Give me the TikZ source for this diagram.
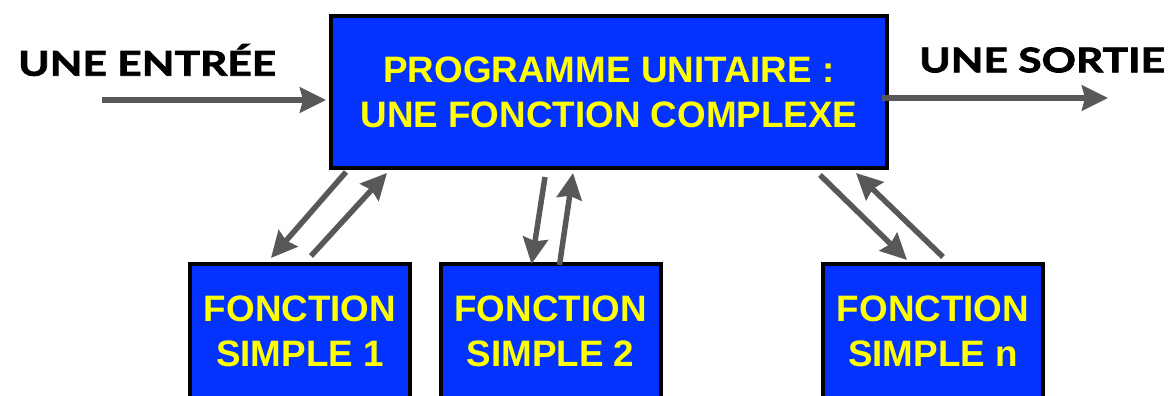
\documentclass[tikz,border=0pt]{standalone}
\usepackage{fontspec}
\setmainfont{Liberation Sans}
\newfontfamily\labelfont{Lato}[BoldFeatures={FakeBold=2.2, FakeStretch=1.25}]
\usetikzlibrary{arrows.meta,calc}
\definecolor{boxblue}{RGB}{4,51,255}
\definecolor{boxyellow}{RGB}{255,255,0}
\definecolor{arrowgray}{RGB}{88,88,88}
\tikzset{
  bigbox/.style={draw=black, line width=4pt, fill=boxblue, text=boxyellow,
    font=\bfseries\fontsize{36.8}{45}\selectfont, align=center, inner sep=0pt},
  flow/.style={draw=arrowgray, line width=5.5pt,
    -{Stealth[length=26pt, width=25pt, inset=3pt]}},
  iolabel/.style={font=\labelfont\bfseries\fontsize{34}{36}\selectfont, text=black, inner sep=0pt}
}
\begin{document}
\begin{tikzpicture}[x=1pt, y=-1pt]
  \useasboundingbox (0,0) rectangle (1171,396);
  \clip (0,0) rectangle (1171,396);

  % main program box
  \node[bigbox, minimum width=556pt, minimum height=152pt] (main) at (609,92)
    {PROGRAMME UNITAIRE :\\UNE FONCTION COMPLEXE};

  % simple function boxes
  \node[bigbox, minimum width=220pt, minimum height=134pt] (f1) at (300,331)
    {FONCTION\\SIMPLE 1};
  \node[bigbox, minimum width=220pt, minimum height=134pt] (f2) at (550.5,331)
    {FONCTION\\SIMPLE 2};
  \node[bigbox, minimum width=220pt, minimum height=134pt] (fn) at (933,331)
    {FONCTION\\SIMPLE n};

  % input / output labels
  \node[iolabel, anchor=west] (inlabel) at (18,60) {UNE ENTRÉE};
  \node[iolabel, anchor=west] (outlabel) at (919,60) {UNE SORTIE};

  \coordinate (instart) at (102,100);
  \coordinate (outend) at (1108,98);

  % input and output
  \draw[flow] (instart) -- ($(main.west)+(-3,8)$);
  \draw[flow] ($(main.east)+(-7,6)$) -- (outend);

  % calls to function 1
  \draw[flow] ($(main.south west)+(17,2)$) -- ($(f1.north west)+(83,-4)$);
  \draw[flow] ($(f1.north west)+(123,-6)$) -- ($(main.south west)+(58,3)$);

  % calls to function 2
  \draw[flow] ($(main.south west)+(216,7)$) -- ($(f2.north west)+(93,2)$);
  \draw[flow] ($(f2.north west)+(121,3)$) -- ($(main.south west)+(244,3)$);

  % calls to function n
  \draw[flow] ($(main.south west)+(491,5)$) -- ($(fn.north west)+(86,-2)$);
  \draw[flow] ($(fn.north west)+(122,-5)$) -- ($(main.south west)+(527,3)$);
\end{tikzpicture}
\end{document}
